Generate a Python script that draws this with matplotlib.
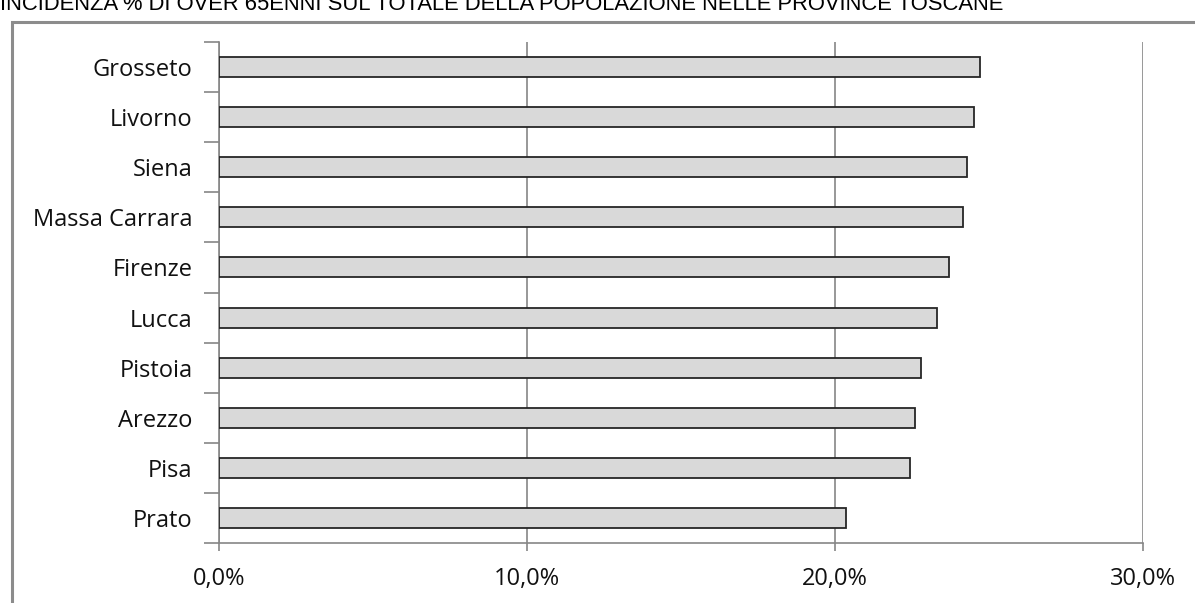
import matplotlib.pyplot as plt
from matplotlib.patches import Rectangle
from matplotlib.ticker import FuncFormatter

# Dati: incidenza % over 65 sul totale della popolazione
province = ['Prato', 'Pisa', 'Arezzo', 'Pistoia', 'Lucca',
            'Firenze', 'Massa Carrara', 'Siena', 'Livorno', 'Grosseto']
incidenza = [20.35, 22.45, 22.6, 22.8, 23.3, 23.7, 24.15, 24.3, 24.5, 24.7]
x_ticks = [0, 10, 20, 30]

titolo = "INCIDENZA % DI OVER 65ENNI SUL TOTALE DELLA POPOLAZIONE NELLE PROVINCE TOSCANE"

W, H = 1195, 603
fig = plt.figure(figsize=(W / 100, H / 100), dpi=100)

# riquadro esterno del grafico (tagliato a destra e in basso)
fig.patches.append(Rectangle((12 / W, -0.1), 1.2, 1 - 22 / H + 0.1,
                             transform=fig.transFigure, fill=False,
                             edgecolor='#8c8c8c', linewidth=2.2))

# titolo, tagliato in alto come nell'originale
fig.text(0.0, 1 - 10 / H, titolo, fontsize=15.8, family='Liberation Sans',
         ha='left', va='baseline', color='black')

ax = fig.add_axes([219 / W, 1 - 543 / H, (1143 - 219) / W, (543 - 42) / H])

pos = list(range(len(province)))
ax.barh(pos, incidenza, height=0.4, color='#d9d9d9', edgecolor='#262626',
        linewidth=1.3, zorder=3)

ax.set_xlim(0, 30)
ax.set_ylim(-0.5, len(province) - 0.5)
ax.set_xticks(x_ticks)
ax.xaxis.set_major_formatter(FuncFormatter(lambda v, p: f"{v:.1f}%".replace('.', ',')))
ax.grid(axis='x', color='#868686', linewidth=1.2, zorder=0)

# etichette categorie centrate, tacche ai confini
ax.set_yticks(pos)
ax.set_yticklabels(province)
ax.set_yticks([p - 0.5 for p in range(len(province) + 1)], minor=True)
ax.tick_params(axis='y', which='major', length=0, pad=19)
ax.tick_params(axis='y', which='minor', length=11, color='#868686', width=1.2)
ax.tick_params(axis='x', length=6, color='#868686', width=1.2, pad=11)

for lab in ax.get_yticklabels() + ax.get_xticklabels():
    lab.set_family('Open Sans')
    lab.set_fontsize(17)
    lab.set_color('#111111')

ax.spines['top'].set_visible(False)
ax.spines['right'].set_visible(False)
ax.spines['left'].set_color('#868686')
ax.spines['bottom'].set_color('#868686')
ax.spines['left'].set_linewidth(1.2)
ax.spines['bottom'].set_linewidth(1.2)

fig.savefig('out.png', dpi=100)
